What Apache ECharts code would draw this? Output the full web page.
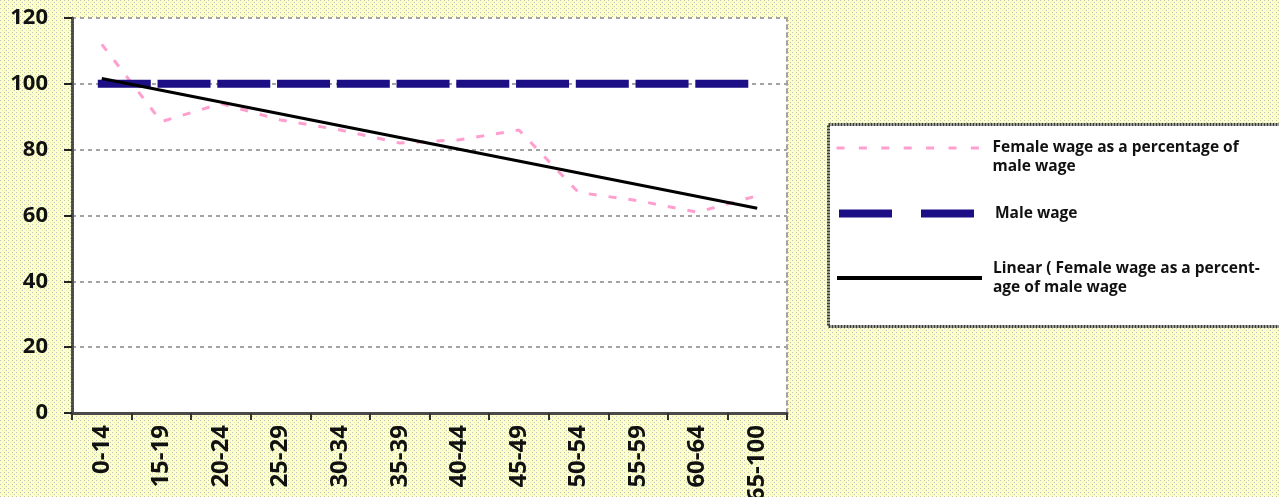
<!DOCTYPE html>
<html>
<head>
<meta charset="utf-8">
<script src="https://cdn.jsdelivr.net/npm/echarts@6/dist/echarts.min.js"></script>
<style>
  html, body { margin: 0; padding: 0; width: 1279px; height: 497px; overflow: hidden; background: #fdfbcb; }
  #chart { width: 1279px; height: 497px; }
</style>
</head>
<body>
<div id="chart"></div>
<script>
// Age bands on the horizontal axis
const ageGroups = ['0-14', '15-19', '20-24', '25-29', '30-34', '35-39',
                   '40-44', '45-49', '50-54', '55-59', '60-64', '65-100'];

// Female wage as a percentage of male wage, per age band
const femaleWagePct = [112, 88.5, 94, 89, 86, 82, 83, 86, 67, 64.5, 61, 66];

// Male wage is the 100 reference level
const maleWage = [100, 100, 100, 100, 100, 100, 100, 100, 100, 100, 100, 100];

// Linear trend of the female series: value at the first and at the last age band
const trendEnds = [101.6, 62.2];

// Value axis ticks
const yTicks = [0, 20, 40, 60, 80, 100, 120];

const FEMALE = 'Female wage as a percentage of male wage';
const MALE = 'Male wage';
const TREND = 'Linear ( Female wage as a percentage of male wage';

const PINK = '#ff9fcf';
const NAVY = '#1c0f85';
const BLACK = '#000000';

// Legend wording; the leading blank line keeps the key level with the first text line
const legendText = {};
legendText[FEMALE] = ' \nFemale wage as a percentage of\nmale wage';
legendText[MALE] = 'Male wage';
legendText[TREND] = 'Linear ( Female wage as a percent-\nage of male wage';

// Trend series: endpoints only, joined across the middle bands
const trendData = ageGroups.map((_, i) =>
  i === 0 ? trendEnds[0] : (i === ageGroups.length - 1 ? trendEnds[1] : null));

// Dotted pale-yellow page texture
function makeTile() {
  const c = document.createElement('canvas');
  c.width = 8; c.height = 4;
  const g = c.getContext('2d');
  g.fillStyle = '#ffffcc'; g.fillRect(0, 0, 8, 4);
  g.fillStyle = '#c2c2c2'; g.fillRect(0, 0, 1, 1);
  g.fillStyle = '#cbc794'; g.fillRect(4, 0, 1, 1);
  g.fillStyle = '#c8fcc8'; g.fillRect(2, 2, 1, 1);
  g.fillStyle = '#c2c2c2'; g.fillRect(6, 2, 1, 1);
  return c;
}

const FONT = '"Open Sans", "Noto Sans", sans-serif';

const legendBase = {
  orient: 'vertical',
  left: 835,
  padding: 0,
  itemWidth: 145,
  itemHeight: 8,
  selectedMode: false,
  formatter: name => legendText[name],
  textStyle: {
    fontFamily: FONT, fontWeight: 'bold', fontSize: 15.5, color: '#111',
    lineHeight: 19, padding: [0, 0, 0, 6]
  }
};

const hiddenSymbol = { opacity: 0 };

const chart = echarts.init(document.getElementById('chart'), null, { renderer: 'canvas' });

chart.setOption({
  animation: false,
  color: [PINK, NAVY, BLACK],
  backgroundColor: { image: makeTile(), repeat: 'repeat' },
  grid: {
    left: 72, right: 492, top: 18, bottom: 84,
    outerBoundsMode: 'none',
    containLabel: false,
    show: true, backgroundColor: '#ffffff', borderWidth: 0
  },
  xAxis: {
    type: 'category',
    data: ageGroups,
    boundaryGap: true,
    axisLine: { show: true, lineStyle: { color: '#4a4a4a', width: 3, type: [2, 1] } },
    axisTick: { show: true, length: 7, lineStyle: { color: '#333', width: 2 } },
    axisLabel: {
      rotate: 90, margin: 12,
      fontFamily: FONT, fontWeight: 'bold', fontSize: 24, color: '#111'
    },
    splitLine: { show: false }
  },
  yAxis: [{
    type: 'value',
    min: yTicks[0], max: yTicks[yTicks.length - 1], interval: yTicks[1] - yTicks[0],
    axisLine: { show: true, lineStyle: { color: '#4a4a4a', width: 3, type: [2, 1] } },
    axisTick: { show: true, length: 8, lineStyle: { color: '#222', width: 2 } },
    axisLabel: {
      margin: 24,
      fontFamily: FONT, fontWeight: 'bold', fontSize: 22, color: '#111'
    },
    splitLine: { show: true, lineStyle: { color: '#a3a3a3', width: 2, type: [4, 4] } }
  }, {
    // right-hand frame of the plot area
    type: 'value', position: 'right',
    min: yTicks[0], max: yTicks[yTicks.length - 1], interval: yTicks[1] - yTicks[0],
    axisLine: { show: true, lineStyle: { color: '#a3a3a3', width: 2, type: [4, 4] } },
    axisTick: { show: false }, axisLabel: { show: false }, splitLine: { show: false }
  }],
  legend: [
    Object.assign({}, legendBase, {
      top: 119.5,
      data: [{
        name: FEMALE,
        itemStyle: hiddenSymbol,
        lineStyle: { type: [8, 14.4], width: 3, color: PINK }
      }]
    }),
    Object.assign({}, legendBase, {
      top: 204,
      data: [{
        name: MALE,
        itemStyle: hiddenSymbol,
        lineStyle: { type: [53, 29], width: 8, color: NAVY, cap: 'butt' }
      }]
    }),
    Object.assign({}, legendBase, {
      top: 259,
      data: [{
        name: TREND,
        itemStyle: hiddenSymbol,
        lineStyle: { type: 'solid', width: 4, color: BLACK }
      }]
    })
  ],
  graphic: [{
    type: 'rect',
    z: -1,
    shape: { x: 828.5, y: 124.5, width: 470, height: 202 },
    style: { fill: '#ffffff', stroke: '#3a3a3a', lineWidth: 3, lineDash: [2, 1] }
  }],
  series: [
    {
      name: FEMALE,
      type: 'line',
      data: femaleWagePct,
      symbol: 'none',
      z: 2,
      itemStyle: { color: PINK },
      lineStyle: { color: PINK, width: 3, type: [8, 12] }
    },
    {
      name: MALE,
      type: 'line',
      data: maleWage,
      symbol: 'none',
      z: 3,
      itemStyle: { color: NAVY },
      lineStyle: { color: NAVY, width: 8, type: [45, 14.75], cap: 'square' }
    },
    {
      name: TREND,
      type: 'line',
      data: trendData,
      connectNulls: true,
      symbol: 'none',
      z: 4,
      itemStyle: { color: BLACK },
      lineStyle: { color: BLACK, width: 3 }
    }
  ]
});
</script>
</body>
</html>
